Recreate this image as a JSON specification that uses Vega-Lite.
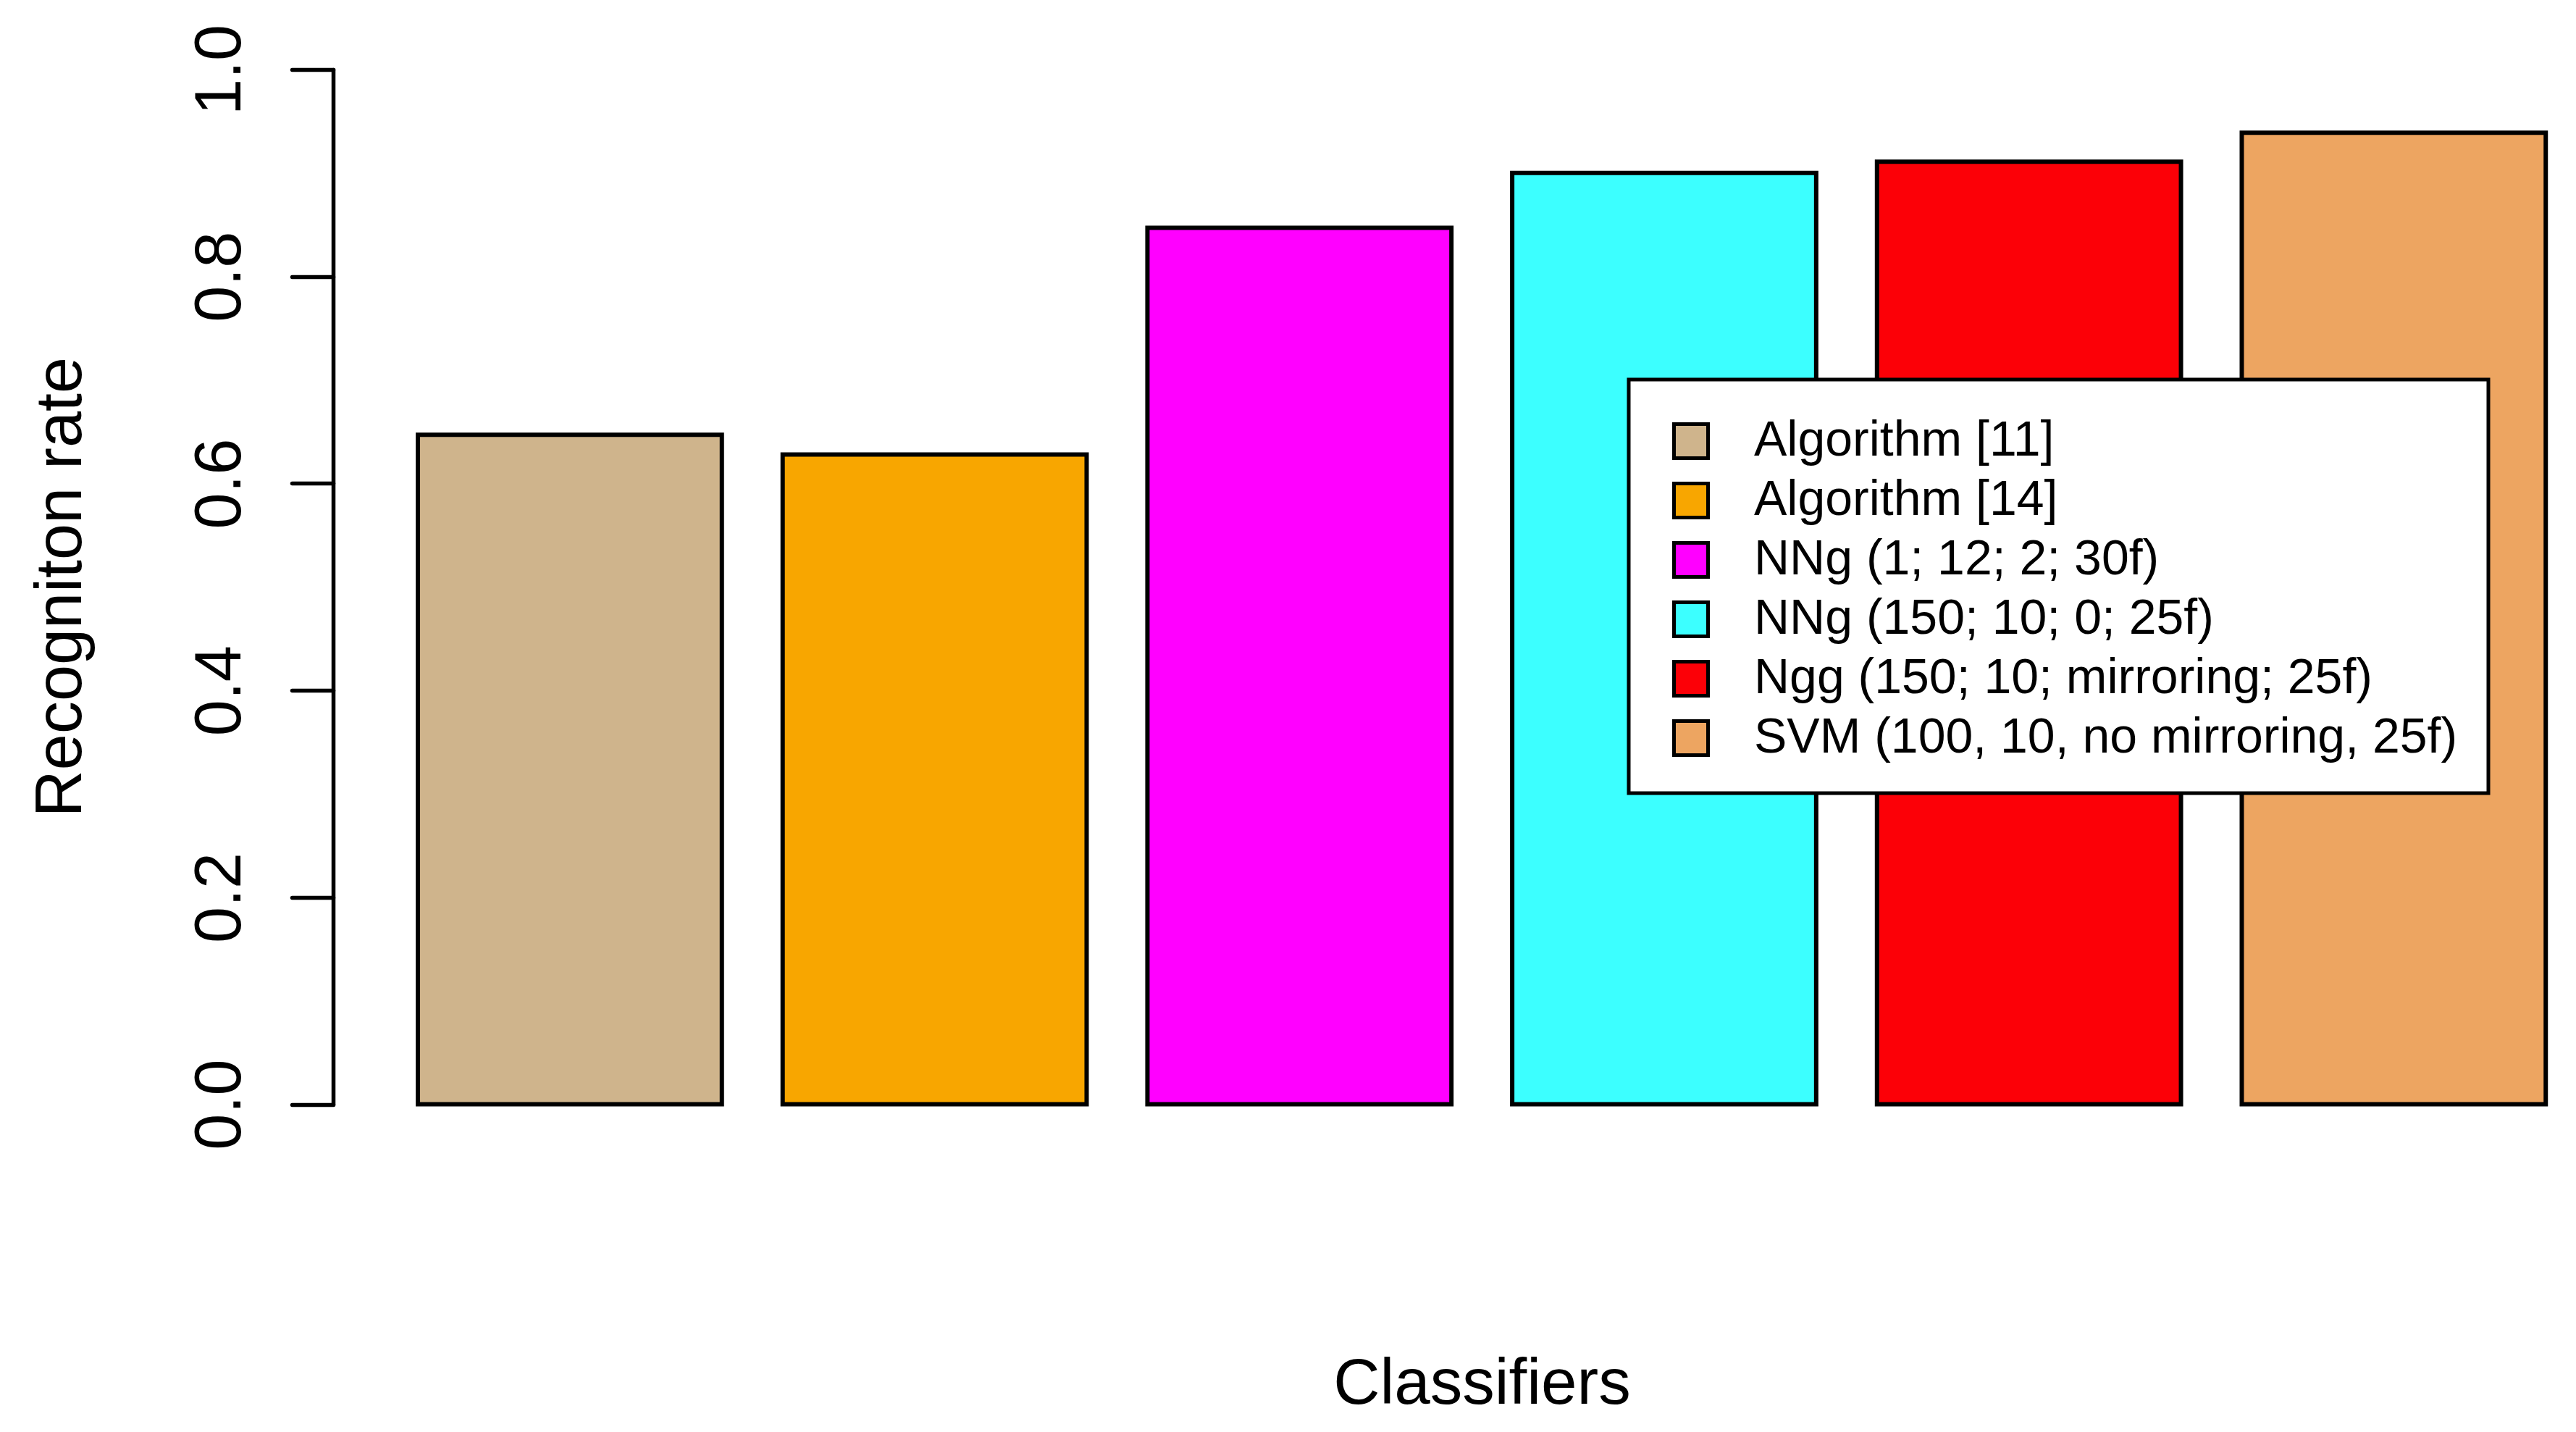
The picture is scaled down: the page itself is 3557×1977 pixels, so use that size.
{
  "$schema": "https://vega.github.io/schema/vega-lite/v6.json",
  "autosize": {"type": "none"},
  "padding": {"left": 460, "top": 96, "right": 0, "bottom": 453},
  "width": 3097,
  "height": 1428.6,
  "background": "white",
  "config": {
    "view": {"stroke": null},
    "font": "Liberation Sans"
  },
  "data": {
    "values": [
      {"classifier": "Algorithm [11]", "rate": 0.647},
      {"classifier": "Algorithm [14]", "rate": 0.628},
      {"classifier": "NNg (1; 12; 2; 30f)", "rate": 0.847},
      {"classifier": "NNg (150; 10; 0; 25f)", "rate": 0.900},
      {"classifier": "Ngg (150; 10; mirroring; 25f)", "rate": 0.911},
      {"classifier": "SVM (100, 10, no mirroring, 25f)", "rate": 0.939}
    ]
  },
  "mark": {"type": "bar", "stroke": "black", "strokeWidth": 6, "fillOpacity": 1, "opacity": 1},
  "encoding": {
    "x": {
      "field": "classifier",
      "type": "nominal",
      "sort": null,
      "scale": {"paddingInner": 0.16667, "paddingOuter": 0.1576, "align": 0.737},
      "axis": {
        "labels": false,
        "ticks": false,
        "domain": false,
        "grid": false,
        "title": "Classifiers",
        "titleFont": "Liberation Sans",
        "titleFontSize": 89,
        "titleFontWeight": "normal",
        "titleColor": "black",
        "titleX": 1586,
        "titleY": 413,
        "titleBaseline": "alphabetic",
        "titleAlign": "center"
      }
    },
    "y": {
      "field": "rate",
      "type": "quantitative",
      "scale": {"domain": [0, 1], "nice": false, "zero": true},
      "axis": {
        "values": [0, 0.2, 0.4, 0.6, 0.8, 1.0],
        "format": ".1f",
        "grid": false,
        "domainColor": "black",
        "domainWidth": 5.5,
        "domainCap": "round",
        "tickColor": "black",
        "tickWidth": 5.5,
        "tickSize": 57,
        "tickCap": "round",
        "labelFont": "Liberation Sans",
        "labelFontSize": 90,
        "labelColor": "black",
        "labelAngle": 270,
        "labelAlign": "center",
        "labelBaseline": "alphabetic",
        "labelPadding": 72,
        "labelOverlap": false,
        "labelFlush": false,
        "labelBound": false,
        "title": "Recogniton rate",
        "titleFont": "Liberation Sans",
        "titleFontSize": 90,
        "titleFontWeight": "normal",
        "titleColor": "black",
        "titleAngle": 270,
        "titleX": -349,
        "titleY": 714,
        "titleBaseline": "alphabetic",
        "titleAlign": "center"
      }
    },
    "y2": {"datum": 0},
    "color": {
      "field": "classifier",
      "type": "nominal",
      "sort": null,
      "scale": {
        "domain": [
          "Algorithm [11]",
          "Algorithm [14]",
          "NNg (1; 12; 2; 30f)",
          "NNg (150; 10; 0; 25f)",
          "Ngg (150; 10; mirroring; 25f)",
          "SVM (100, 10, no mirroring, 25f)"
        ],
        "range": ["#CFB48C", "#F8A600", "#FF00FF", "#3CFFFF", "#FC0007", "#EDA561"]
      },
      "legend": {
        "title": " ",
        "titleFontSize": 1,
        "titlePadding": 8,
        "orient": "none",
        "legendX": 1789,
        "legendY": 428,
        "padding": 42,
        "strokeColor": "black",
        "fillColor": "white",
        "labelFont": "Liberation Sans",
        "labelFontSize": 68,
        "labelColor": "black",
        "labelLimit": 0,
        "labelOffset": 53,
        "symbolType": "square",
        "symbolSize": 2209,
        "symbolStrokeColor": "black",
        "symbolStrokeWidth": 5,
        "symbolOpacity": 1,
        "symbolOffset": 10,
        "rowPadding": 14,
        "encode": {
          "legend": {"update": {"strokeWidth": {"value": 5}}}
        }
      }
    }
  }
}
